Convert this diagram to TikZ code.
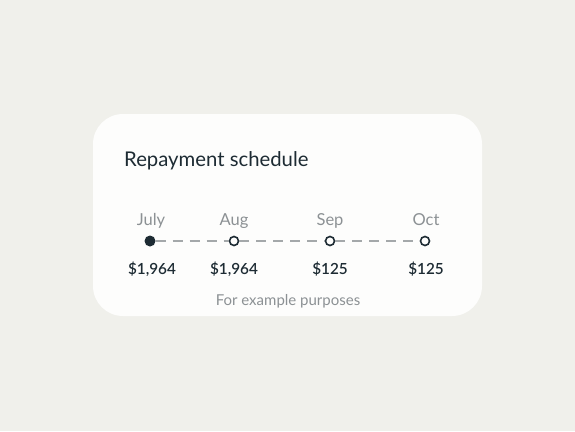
\documentclass[tikz,border=0pt]{standalone}
\usepackage{fontspec}
\setmainfont{Lato}
\newfontfamily\semifont{Lato Semibold}
\definecolor{bg}{HTML}{F0F0EB}
\definecolor{card}{HTML}{FDFDFC}
\definecolor{ink}{HTML}{1D2B33}
\definecolor{muted}{HTML}{8C9194}
\definecolor{dashc}{HTML}{A4A8AA}
\tikzset{
  month/.style={text=muted, font=\fontsize{16.5}{17}\selectfont, anchor=base},
  amount/.style={text=ink, font=\semifont\fontsize{15.3}{16}\selectfont, anchor=base},
  opendot/.style={circle, draw=ink, line width=1.6pt, fill=card, minimum size=9pt, inner sep=0pt},
  fulldot/.style={circle, fill=ink, minimum size=11pt, inner sep=0pt},
  link/.style={draw=dashc, line width=1.2pt, dash pattern=on 10pt off 7pt}
}
\begin{document}
\begin{tikzpicture}[x=1pt,y=-1pt]
\useasboundingbox (0,0) rectangle (575,431);
\fill[bg] (0,0) rectangle (575,431);
\fill[card, rounded corners=30pt] (93,114) rectangle (482,316);
\node[text=ink, font=\fontsize{20.3}{21}\selectfont, anchor=base west, inner sep=0pt] (title) at (124,166) {Repayment schedule};
\node[fulldot] (d1) at (150,241) {};
\node[opendot] (d2) at (234,241) {};
\node[opendot] (d3) at (330,241) {};
\node[opendot] (d4) at (425,241) {};
\draw[link] (d1.east) -- (d2.west);
\draw[link] (d2.east) -- (d3.west);
\draw[link] (d3.east) -- (d4.west);
\node[month] (m1) at (151,225) {July};
\node[month] (m2) at (234,225) {Aug};
\node[month] (m3) at (330,225) {Sep};
\node[month] (m4) at (426,225) {Oct};
\node[amount] (a1) at (152,274) {\$1,964};
\node[amount] (a2) at (234,274) {\$1,964};
\node[amount] (a3) at (330,274) {\$125};
\node[amount] (a4) at (426,274) {\$125};
\node[text=muted, font=\fontsize{15}{16}\selectfont, anchor=base] (note) at (288,305) {For example purposes};
\end{tikzpicture}
\end{document}
